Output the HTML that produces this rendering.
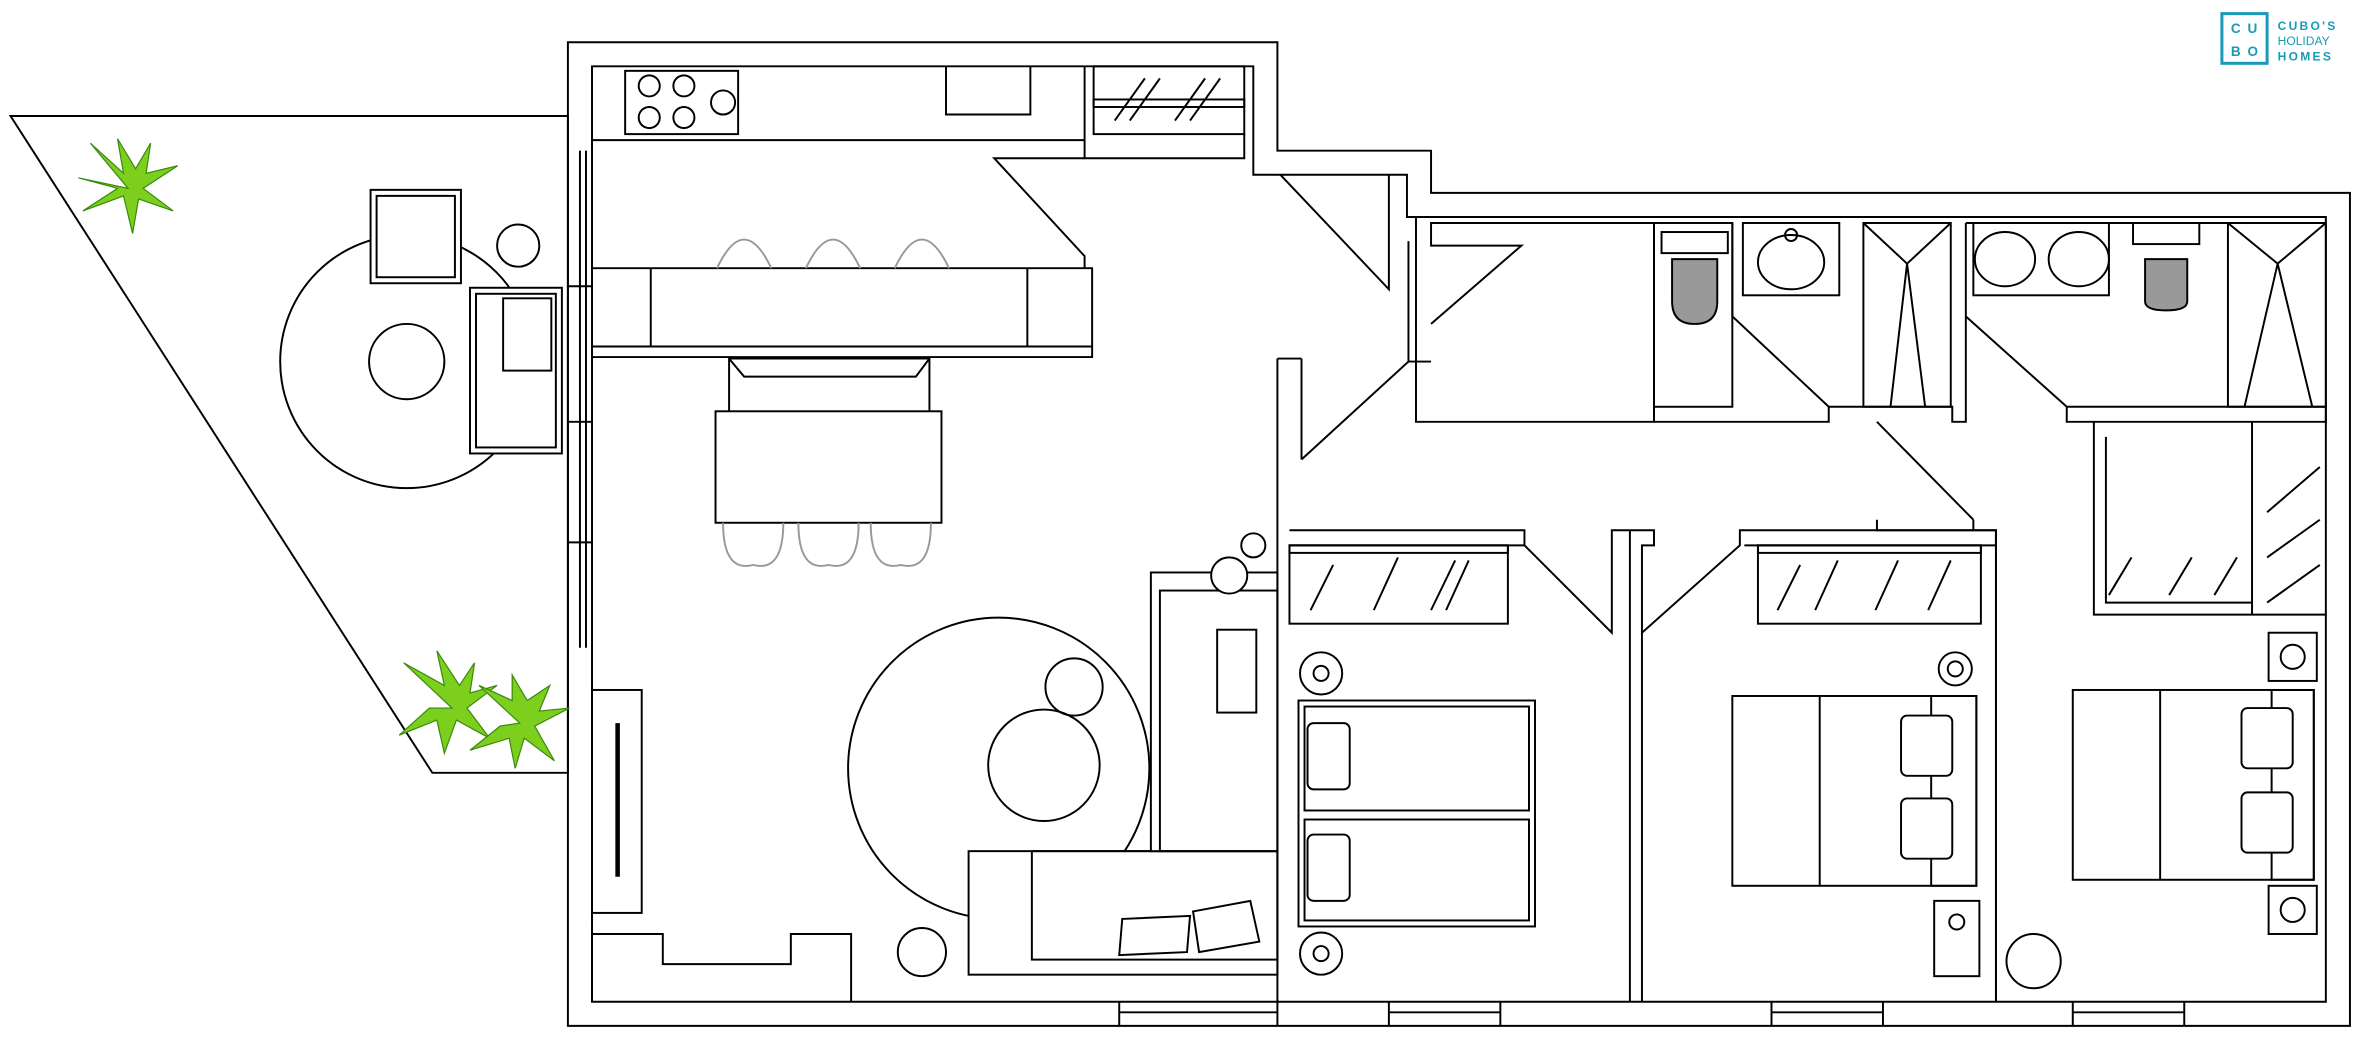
<!DOCTYPE html>
<html><head><meta charset="utf-8"><style>
html,body{margin:0;padding:0;background:#fff;width:2362px;height:1041px;overflow:hidden}
svg{display:block}
</style></head><body>
<svg width="2362" height="1041" viewBox="0 0 1568 691" xmlns="http://www.w3.org/2000/svg">
<g fill="none" stroke="#000" stroke-width="1.3">
<!-- terrace -->
<polygon points="7,77 377,77 377,513 287,513"/>
<circle cx="270" cy="240" r="84"/>
<circle cx="270" cy="240" r="25"/>
<rect x="246" y="126" width="60" height="62" fill="#fff"/><rect x="250" y="130" width="52" height="54"/>
<circle cx="344" cy="163" r="14"/>
<rect x="312" y="191" width="61" height="110" fill="#fff"/><rect x="316" y="195" width="53" height="102"/>
<rect x="334" y="198" width="32" height="48"/>
<!-- outer walls -->
<path d="M377,28 H848 V100 H950 V128 H1560 V681 H377 Z"/>
<path d="M393,44 H832 V116 H934 V144 H1544 V665 H393 Z"/>
<!-- left window -->
<line x1="385" y1="100" x2="385" y2="430"/><line x1="389" y1="100" x2="389" y2="430"/>
<line x1="377" y1="190" x2="393" y2="190"/><line x1="377" y1="280" x2="393" y2="280"/><line x1="377" y1="360" x2="393" y2="360"/>
<!-- kitchen -->
<path d="M393,93 H720 V44"/><path d="M628,44 V76 H684 V44"/>
<rect x="415" y="47" width="75" height="42"/>
<circle cx="431" cy="57" r="7"/><circle cx="454" cy="57" r="7"/><circle cx="431" cy="78" r="7"/><circle cx="454" cy="78" r="7"/><circle cx="480" cy="68" r="8"/>
<rect x="726" y="44" width="100" height="45"/><rect x="726" y="66" width="100" height="5"/>
<path d="M740,80 L760,52 M750,80 L770,52 M780,80 L800,52 M790,80 L810,52"/>
<path d="M720,93 V105 H826 V89"/>
<path d="M393,230 H725 V178 H393"/><path d="M393,237 H725 V230"/>
<line x1="432" y1="178" x2="432" y2="230"/><line x1="682" y1="178" x2="682" y2="230"/>
<path d="M476,178 Q494,140 512,178 M535,178 Q553,140 571,178 M594,178 Q612,140 630,178" stroke="#999"/>
<path d="M720,178 V170 L660,105 H720"/>
<!-- dining -->
<rect x="475" y="273" width="150" height="74"/>
<path d="M484,273 V238 H617 V273 M484,238 L494,250 H608 L617,238"/>
<path d="M480,347 Q480,380 500,375 Q520,380 520,347 M530,347 Q530,380 550,375 Q570,380 570,347 M578,347 Q578,380 598,375 Q618,380 618,347" stroke="#999"/>
<!-- living -->
<rect x="393" y="458" width="33" height="148"/><line x1="410" y1="480" x2="410" y2="582" stroke-width="3"/>
<path d="M393,665 V620 H440 V640 H525 V620 H565 V665"/>
<circle cx="663" cy="510" r="100"/>
<circle cx="693" cy="508" r="37"/><circle cx="713" cy="456" r="19"/>
<circle cx="612" cy="632" r="16"/>
<rect x="643" y="565" width="205" height="82" fill="#fff"/><rect x="685" y="565" width="163" height="72"/>
<rect x="764" y="380" width="84" height="185" fill="#fff"/><rect x="770" y="392" width="78" height="173"/>
<rect x="808" y="418" width="26" height="55"/>
<path d="M745,610 L790,608 L788,632 L743,634 Z M792,605 L830,598 L836,625 L796,632 Z"/>
<circle cx="816" cy="382" r="12" fill="#fff"/><circle cx="832" cy="362" r="8"/>
<!-- corridor walls -->
<path d="M848,238 V665 M864,238 V305"/><path d="M848,238 H864"/>
<path d="M864,305 L935,240 V160 M935,240 H950"/>
<path d="M850,116 L922,192 V116"/>
<path d="M940,144 V280 H1098 V148 H950 V163 H1010 L950,215"/>
<!-- bathrooms -->
<rect x="1098" y="148" width="52" height="122"/>
<rect x="1103" y="154" width="44" height="14"/>
<path d="M1110,172 H1140 V200 Q1140,215 1125,215 Q1110,215 1110,200 Z" fill="#999"/>
<path d="M1098,270 V280 H1214 V270 H1296 V280 H1305 V148 M1150,148 V210 L1214,270"/>
<rect x="1157" y="148" width="64" height="48"/><ellipse cx="1189" cy="174" rx="22" ry="18"/><circle cx="1189" cy="156" r="4"/>
<rect x="1237" y="148" width="58" height="122"/><path d="M1237,148 L1266,175 L1295,148 M1266,175 L1255,270 M1266,175 L1278,270"/>
<path d="M1305,148 H1544 M1305,210 L1372,270 H1544 V280 H1372 V270"/>
<rect x="1310" y="148" width="90" height="48"/><ellipse cx="1331" cy="172" rx="20" ry="18"/><ellipse cx="1380" cy="172" rx="20" ry="18"/>
<rect x="1416" y="148" width="44" height="14"/>
<path d="M1424,172 H1452 V200 Q1452,206 1438,206 Q1424,206 1424,200 Z" fill="#999"/>
<rect x="1479" y="148" width="65" height="122"/><path d="M1479,148 L1512,175 L1544,148 M1512,175 L1490,270 M1512,175 L1535,270"/>
<path d="M1246,280 L1310,345 M1246,345 V352 H1325 V665 M1310,345 V352"/>
<!-- bedroom walls -->
<path d="M856,352 H1012 V362 H856 M1012,362 L1070,420 V352 H1082 V665 M1075,352 H1098 V362 H1090 V420 L1155,362 V352 H1325 V362 H1158"/>
<path d="M1090,420 V665"/>
<rect x="856" y="362" width="145" height="52"/><rect x="856" y="362" width="145" height="5"/>
<path d="M870,405 L885,375 M912,405 L928,370 M950,405 L966,372 M960,405 L975,372"/>
<circle cx="877" cy="447" r="14"/><circle cx="877" cy="447" r="5"/>
<circle cx="877" cy="633" r="14"/><circle cx="877" cy="633" r="5"/>
<rect x="862" y="465" width="157" height="150"/><rect x="866" y="469" width="149" height="69"/><rect x="866" y="544" width="149" height="67"/>
<rect x="868" y="480" width="28" height="44" rx="4"/><rect x="868" y="554" width="28" height="44" rx="4"/>
<rect x="1167" y="362" width="148" height="52"/><rect x="1167" y="362" width="148" height="5"/>
<path d="M1180,405 L1195,375 M1205,405 L1220,372 M1245,405 L1260,372 M1280,405 L1295,372"/>
<circle cx="1298" cy="444" r="11"/><circle cx="1298" cy="444" r="5"/>
<rect x="1150" y="462" width="162" height="126"/><line x1="1208" y1="462" x2="1208" y2="588"/><rect x="1282" y="462" width="30" height="126"/>
<rect x="1262" y="475" width="34" height="40" rx="4" fill="#fff"/><rect x="1262" y="530" width="34" height="40" rx="4" fill="#fff"/>
<rect x="1284" y="598" width="30" height="50"/><circle cx="1299" cy="612" r="5"/>
<path d="M1325,665 V352 M1390,280 V408 H1544 M1398,290 V400 H1495 V290 M1495,280 V408"/>
<path d="M1400,395 L1415,370 M1440,395 L1455,370 M1470,395 L1485,370 M1505,340 L1540,310 M1505,370 L1540,345 M1505,400 L1540,375"/>
<rect x="1506" y="420" width="32" height="32"/><circle cx="1522" cy="436" r="8"/>
<rect x="1506" y="588" width="32" height="32"/><circle cx="1522" cy="604" r="8"/>
<rect x="1376" y="458" width="160" height="126"/><line x1="1434" y1="458" x2="1434" y2="584"/><rect x="1508" y="458" width="28" height="126"/>
<rect x="1488" y="470" width="34" height="40" rx="4" fill="#fff"/><rect x="1488" y="526" width="34" height="40" rx="4" fill="#fff"/>
<circle cx="1350" cy="638" r="18"/>
<!-- bottom windows -->
<path d="M743,665 V681 M848,665 V681 M743,672 H848 M922,665 V681 M996,665 V681 M922,672 H996 M1176,665 V681 M1250,665 V681 M1176,672 H1250 M1376,665 V681 M1450,665 V681 M1376,672 H1450"/>
</g>
<!-- plants -->
<g fill="#7ccf1c" stroke="#3a8a10" stroke-width="0.8">
<path d="M85,125 L60,95 L82,115 L78,92 L90,112 L100,95 L97,115 L118,110 L95,125 L115,140 L92,132 L88,155 L82,130 L55,140 L78,125 L52,118 Z"/>
<path d="M300,470 L268,440 L295,455 L290,432 L305,455 L315,440 L312,460 L330,455 L310,470 L325,490 L303,478 L295,500 L290,478 L265,488 L285,470 Z"/>
<path d="M345,480 L318,455 L340,465 L340,448 L350,465 L365,455 L358,472 L378,470 L355,482 L368,505 L348,490 L342,510 L338,490 L312,498 L332,482 Z"/>
</g>
<!-- logo -->
<g font-family="Liberation Sans, sans-serif" fill="#1a9bb5" font-weight="bold">
<rect x="1475" y="9" width="30" height="33" fill="none" stroke="#1a9bb5" stroke-width="2"/>
<text x="1481" y="22" font-size="9">C</text><text x="1492" y="22" font-size="9">U</text>
<text x="1481" y="37" font-size="9">B</text><text x="1492" y="37" font-size="9">O</text>
<text x="1512" y="20" font-size="8" letter-spacing="1.5">CUBO'S</text>
<text x="1512" y="30" font-size="8" font-weight="normal">HOLIDAY</text>
<text x="1512" y="40" font-size="8" letter-spacing="1.5">HOMES</text>
</g>
</svg>
</body></html>
